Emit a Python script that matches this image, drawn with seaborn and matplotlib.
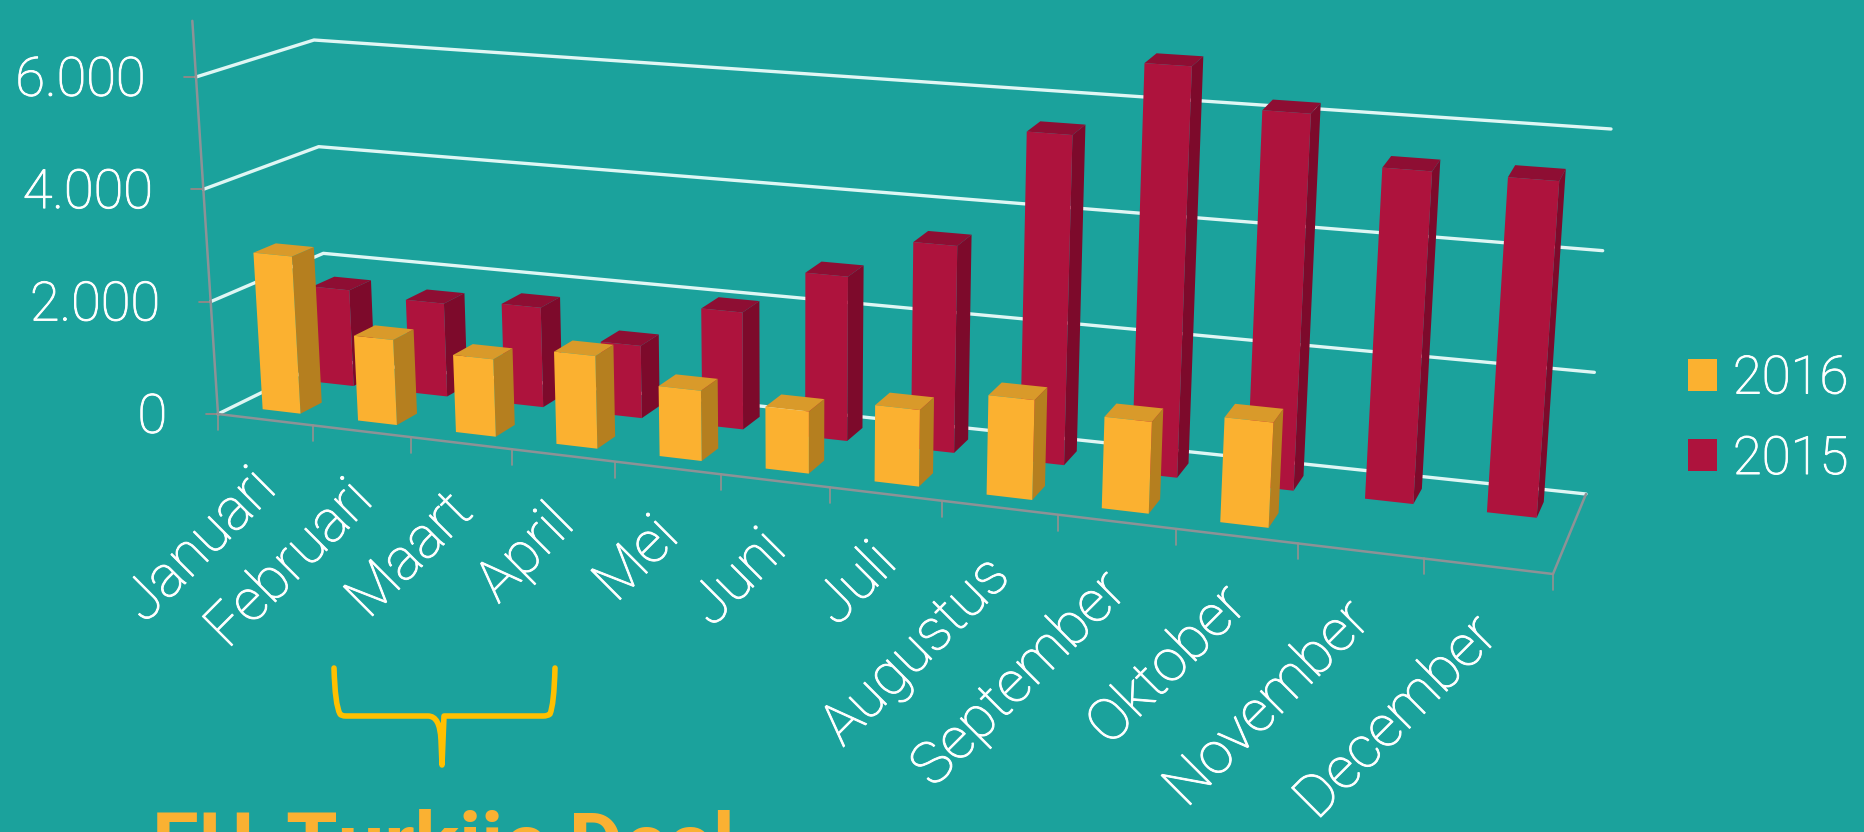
import numpy as np
import pandas as pd
import matplotlib
matplotlib.use("Agg")
import matplotlib.pyplot as plt
import matplotlib.patheffects as pe
import seaborn as sns
from matplotlib.patches import Patch, PathPatch, Polygon
from matplotlib.path import Path
from matplotlib.transforms import Affine2D, Transform

months = ["Januari", "Februari", "Maart", "April", "Mei", "Juni", "Juli",
          "Augustus", "September", "Oktober", "November", "December"]
values_2016 = [2800, 1500, 1350, 1600, 1200, 1050, 1280, 1650, 1500, 1700, np.nan, np.nan]
values_2015 = [1750, 1680, 1780, 1280, 2050, 2850, 3550, 5600, 6900, 6250, 5450, 5450]
y_ticks = [0, 2000, 4000, 6000]
y_tick_labels = ["0", "2.000", "4.000", "6.000"]
years = ["2015", "2016"]

W, H = 1865, 832
BG = "#1ba29c"
FRONT = {"2016": "#fbb130", "2015": "#ae133d"}
SIDE = {"2016": "#b57f1f", "2015": "#7d0a2b"}
TOP = {"2016": "#d99a2a", "2015": "#8e0e33"}
DEPTH = {"2016": 0.15, "2015": 0.65}
BAR_DEPTH = 0.2
AXIS_GREY = "#8d9296"
GRID = "#dff6f4"

# picture positions of the 3D box, value 0 and how far 6000 rises from there
FL, FR, BL, BR = [np.array(p, float) for p in [(218, 414), (1553, 574), (328, 360), (1586, 494)]]
RFL, RFR, RBL, RBR = [np.array(p, float) for p in [(-22, -337), (28, -385), (-14, -320), (25, -365)]]


def project(x, d, v):
    # x in month units (bar centres at 0, 1, ...), d 0 front to 1 back, v value
    x, d, v = np.asarray(x, float), np.asarray(d, float), np.asarray(v, float)
    t = (x + 0.5) / 12
    s = t / (t + 1.18 * (1 - t))
    out = []
    for i in range(2):
        base = (1 - d) * ((1 - s) * FL[i] + s * FR[i]) + d * ((1 - s) * BL[i] + s * BR[i])
        rise = (1 - d) * ((1 - s) * RFL[i] + s * RFR[i]) + d * ((1 - s) * RBL[i] + s * RBR[i])
        out.append(base + v / 6000 * rise)
    return np.stack(out, axis=-1)


class BoxTransform(Transform):
    input_dims = 2
    output_dims = 2

    def __init__(self, d):
        super().__init__()
        self.d = d

    def transform_non_affine(self, values):
        values = np.asarray(values, float)
        p = project(values[:, 0], self.d, values[:, 1])
        return np.column_stack([p[:, 0], H - p[:, 1]])


sns.set_theme(style="white")
plt.rcParams["font.family"] = ["Roboto", "DejaVu Sans"]

df = pd.DataFrame({
    "Maand": months * 2,
    "Jaar": ["2015"] * 12 + ["2016"] * 12,
    "Aantal": values_2015 + values_2016,
})

fig = plt.figure(figsize=(W / 100, H / 100), dpi=100, facecolor=BG)
ax = fig.add_axes([0, 0, 1, 1])
sns.barplot(data=df, x="Maand", y="Aantal", hue="Jaar", hue_order=years, dodge=False,
            width=0.4, palette=FRONT, saturation=1, legend=False, ax=ax)
ax.set_axis_off()

# top-left pixel coordinates for everything that is not a bar face
pix = Affine2D().scale(1, -1).translate(0, H)
thicker = [pe.withStroke(linewidth=0.7, foreground="white")]

# walls and floor
for v in y_ticks:
    line = np.array([project(-0.5, 0, v), project(-0.5, 1, v), project(11.5, 1, v)])
    ax.plot(line[:, 0], line[:, 1], color=GRID, lw=2.4, transform=pix, zorder=1, clip_on=False)
    p = project(-0.5, 0, v)
    ax.plot([p[0] - 12, p[0]], [p[1], p[1]], color="#a08484", lw=1.2, transform=pix, zorder=1)

edge = np.array([project(-0.5, 0, 7000), project(-0.5, 0, 0), project(11.5, 0, 0), project(11.5, 1, 0)])
ax.plot(edge[:, 0], edge[:, 1], color=AXIS_GREY, lw=1.8, transform=pix, zorder=1.5)
for i in range(13):
    p = project(i - 0.5, 0, 0)
    ax.plot([p[0], p[0]], [p[1], p[1] + 16], color="#96908f", lw=1.2, transform=pix, zorder=1.5)

# seaborn gives the front faces, they only need moving into the box
for container, year in zip(ax.containers, years):
    d = DEPTH[year]
    base_z = 2 if year == "2015" else 4
    for rect in container:
        h = rect.get_height()
        if np.isnan(h) or h == 0:
            continue
        x0, x1 = rect.get_x(), rect.get_x() + rect.get_width()
        z = base_z + 0.01 * (x0 + 1)
        rect.set_transform(BoxTransform(d))
        rect.set_clip_on(False)
        rect.set_zorder(z + 0.002)
        rect.set_linewidth(0)
        d1 = d + BAR_DEPTH
        side = [project(x1, d, 0), project(x1, d1, 0), project(x1, d1, h), project(x1, d, h)]
        top = [project(x0, d, h), project(x1, d, h), project(x1, d1, h), project(x0, d1, h)]
        ax.add_patch(Polygon(side, closed=True, fc=SIDE[year], lw=0, transform=pix, zorder=z, clip_on=False))
        ax.add_patch(Polygon(top, closed=True, fc=TOP[year], lw=0, transform=pix, zorder=z + 0.001, clip_on=False))

# tick labels
for v, lab in zip(y_ticks, y_tick_labels):
    p = project(-0.5, 0, v)
    ax.text(p[0] - 51, p[1] + 4, lab, color="white", fontsize=39, fontweight="light",
            ha="right", va="center", transform=pix, path_effects=thicker)
for i, m in enumerate(months):
    p = project(i, 0, 0)
    ax.text(p[0] + 2, p[1] + 60, m, color="white", fontsize=42, fontweight="light", rotation=45,
            rotation_mode="anchor", ha="right", va="center", transform=pix, path_effects=thicker)

# legend
handles = [Patch(color=FRONT[y], lw=0, label=y) for y in ["2016", "2015"]]
leg = ax.legend(handles=handles, loc="center left", bbox_to_anchor=(1688, 419),
                bbox_transform=pix, frameon=False, labelcolor="white",
                handlelength=0.55, handleheight=0.55, handletextpad=0.3, labelspacing=0.55,
                borderpad=0, borderaxespad=0, prop={"size": 38, "weight": "light"})
for t in leg.get_texts():
    t.set_path_effects(thicker)

# bracket and note under the spring months
brace = [(334, 668), (335, 705), (340, 714), (341, 716), (346, 716), (428, 716),
         (440, 716), (441, 740), (442, 765), (443, 740), (444, 716), (456, 716),
         (543, 716), (548, 716), (550, 714), (554, 705), (555, 668)]
codes = [Path.MOVETO, Path.CURVE3, Path.CURVE3, Path.CURVE3, Path.CURVE3, Path.LINETO,
         Path.CURVE3, Path.CURVE3, Path.LINETO, Path.CURVE3, Path.CURVE3, Path.LINETO,
         Path.LINETO, Path.CURVE3, Path.CURVE3, Path.CURVE3, Path.CURVE3]
ax.add_patch(PathPatch(Path(brace, codes), fc="none", ec="#ffc000", lw=4, transform=pix,
                       capstyle="round", joinstyle="round", clip_on=False))
ax.text(152, 808, "EU-Turkije Deal", color="#fab132", fontsize=60, fontweight="bold",
        ha="left", va="top", transform=pix)

fig.savefig("out.png", dpi=100, facecolor=BG)
